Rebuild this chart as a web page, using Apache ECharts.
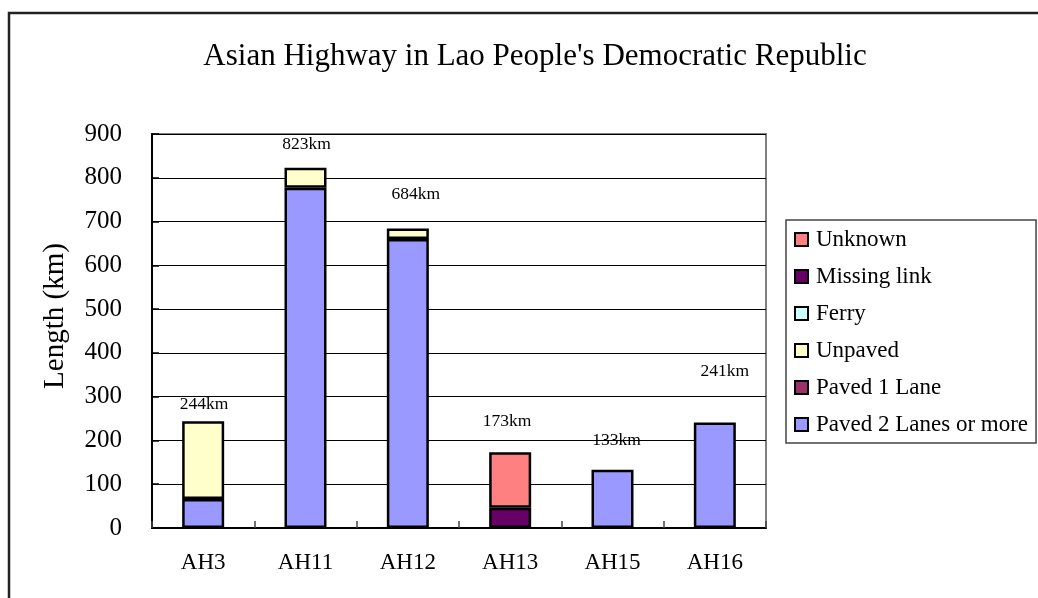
<!DOCTYPE html>
<html>
<head>
<meta charset="utf-8">
<script src="https://cdn.jsdelivr.net/npm/echarts@6/dist/echarts.min.js"></script>
<style>
  html, body { margin: 0; padding: 0; background: #fff; }
  #chart { width: 1038px; height: 598px; }
</style>
</head>
<body>
<div id="chart"></div>
<script>
// ---- data ----
const categories = ['AH3', 'AH11', 'AH12', 'AH13', 'AH15', 'AH16'];
const paved2 = [66, 777, 660, 0, 133, 241];
const paved1 = [0, 0, 0, 0, 0, 0];
const unpaved = [178, 46, 24, 0, 0, 0];
const ferry = [0, 0, 0, 0, 0, 0];
const missingLink = [0, 0, 0, 46, 0, 0];
const unknown = [0, 0, 0, 127, 0, 0];
const yTicks = [0, 100, 200, 300, 400, 500, 600, 700, 800, 900];

// ---- style (not data) ----
const FONT = '"Liberation Serif", "Times New Roman", serif';
// pixel offsets [dx, dy] of the total labels relative to bar tops
const labelOffsets = [[1, -17], [1, -23], [8, -34], [-3, -31], [4, -29], [10, -51]];

const seriesDefs = [
  { name: 'Paved 2 Lanes or more', data: paved2, color: '#9999FF' },
  { name: 'Paved 1 Lane', data: paved1, color: '#993366' },
  { name: 'Unpaved', data: unpaved, color: '#FFFFCC' },
  { name: 'Ferry', data: ferry, color: '#CCFFFF' },
  { name: 'Missing link', data: missingLink, color: '#660066' },
  { name: 'Unknown', data: unknown, color: '#FF8080' }
];

const totals = categories.map((c, i) => seriesDefs.reduce((s, d) => s + d.data[i], 0));

const chart = echarts.init(document.getElementById('chart'), null, { renderer: 'canvas' });

const series = seriesDefs.map(d => ({
  name: d.name,
  type: 'bar',
  stack: 'total',
  barWidth: 42,
  data: d.data.map(v => (v === 0 ? '-' : v)),
  itemStyle: { color: d.color, borderColor: '#000', borderWidth: 2.5 },
  emphasis: { disabled: true }
}));

series.push({
  type: 'scatter',
  symbolSize: 0,
  itemStyle: { color: '#000' },
  silent: true,
  z: 10,
  data: totals.map((t, i) => ({
    value: t,
    label: {
      show: true,
      position: 'inside',
      offset: labelOffsets[i],
      formatter: () => t + 'km',
      fontFamily: FONT,
      fontSize: 17.5,
      color: '#000',
      opacity: 1,
      textBorderWidth: 0
    }
  }))
});

chart.setOption({
  animation: false,
  backgroundColor: '#fff',
  title: {
    text: "Asian Highway in Lao People's Democratic Republic",
    left: 530,
    textAlign: 'center',
    top: 36,
    textStyle: { fontFamily: FONT, fontSize: 31, fontWeight: 'normal', color: '#000' }
  },
  graphic: [
    {
      type: 'rect',
      z: -10,
      shape: { x: 9, y: 13, width: 1200, height: 800 },
      style: { fill: 'none', stroke: '#222', lineWidth: 2.5 },
      silent: true
    },
    {
      type: 'text',
      x: 55,
      y: 316,
      rotation: Math.PI / 2,
      style: {
        text: 'Length (km)',
        fontFamily: FONT,
        fontSize: 29,
        fill: '#000',
        align: 'center',
        verticalAlign: 'middle'
      },
      silent: true
    }
  ],
  legend: {
    orient: 'vertical',
    left: 786,
    top: 220,
    data: ['Unknown', 'Missing link', 'Ferry', 'Unpaved', 'Paved 1 Lane', 'Paved 2 Lanes or more'],
    icon: 'rect',
    itemWidth: 13,
    itemHeight: 13,
    itemGap: 14,
    padding: [8, 8, 7, 8],
    borderColor: '#444',
    borderWidth: 1.5,
    selectedMode: false,
    textStyle: { fontFamily: FONT, fontSize: 23, lineHeight: 23, color: '#000', padding: [0, 0, 0, 3] },
    itemStyle: { borderColor: '#000', borderWidth: 2 }
  },
  grid: {
    left: 152,
    right: 272,
    top: 134,
    bottom: 70,
    show: true,
    borderColor: '#808080',
    borderWidth: 2,
    backgroundColor: 'transparent'
  },
  xAxis: {
    type: 'category',
    data: categories,
    axisLine: { lineStyle: { color: '#000', width: 2 } },
    axisTick: { show: true, inside: true, length: 7, lineStyle: { color: '#444', width: 1.5 } },
    axisLabel: { fontFamily: FONT, fontSize: 23, color: '#000', margin: 23 },
    splitLine: { show: false }
  },
  yAxis: {
    type: 'value',
    min: yTicks[0],
    max: yTicks[yTicks.length - 1],
    interval: yTicks[1] - yTicks[0],
    axisLine: { show: true, lineStyle: { color: '#000', width: 2 } },
    axisTick: { show: true, inside: true, length: 7, lineStyle: { color: '#000', width: 1.5 } },
    axisLabel: { fontFamily: FONT, fontSize: 25, color: '#000', margin: 30 },
    splitLine: { show: true, lineStyle: { color: '#000', width: 1 } }
  },
  series: series
});
</script>
</body>
</html>
